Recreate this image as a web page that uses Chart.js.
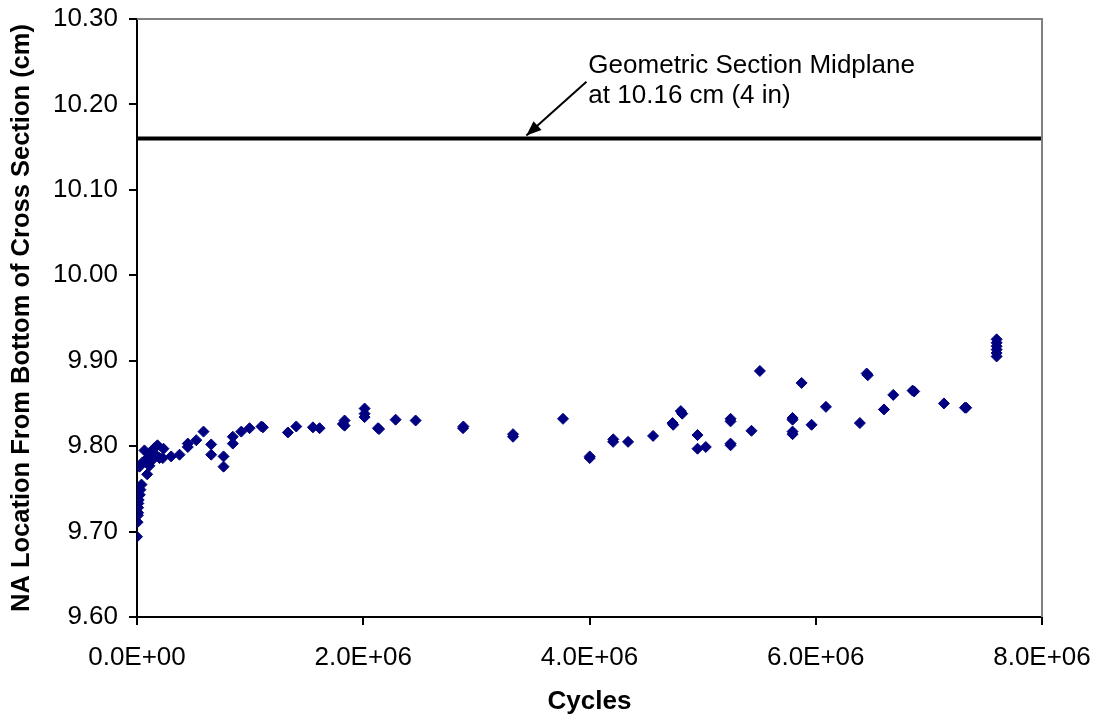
<!DOCTYPE html>
<html>
<head>
    <title>NA Location vs Cycles</title>
    <script src="https://cdn.jsdelivr.net/npm/chart.js"></script>
    <style>
        body { margin: 0; padding: 0; background: #ffffff; }
        #wrap { width: 1098px; height: 719px; }
    </style>
</head>
<body>
    <div id="wrap"><canvas id="chart" width="1098" height="719"></canvas></div>
    <script>
        // Measured points (cycles, NA location in cm)
        const cycles = [
            0, 5000, 8000, 10000, 10000, 12000, 15000, 25000, 30000, 40000,
            22000, 49000, 66000, 90000, 93000, 110000, 120000, 137000, 155000, 164000,
            181000, 199000, 234000, 228000, 302000, 376000, 449000, 449000, 524000, 588000,
            656000, 656000, 765000, 765000, 847000, 847000, 922000, 995000, 1113000, 1100000,
            1334000, 1408000, 1555000, 1614000, 1835000, 1835000, 1820000, 2012000, 2012000, 2012000,
            2130000, 2140000, 2286000, 2463000, 2882000, 2885000, 3324000, 3324000, 3766000, 4002000,
            4002000, 4209000, 4210000, 4341000, 4562000, 4734000, 4740000, 4807000, 4820000, 4955000,
            4955000, 5028000, 5247000, 5247000, 5247000, 5247000, 5432000, 5506000, 5795000, 5795000,
            5795000, 5795000, 5875000, 5963000, 6090000, 6390000, 6450000, 6460000, 6603000, 6685000,
            6856000, 6870000, 7133000, 7319000, 7330000, 7599000, 7599000, 7599000, 7599000, 7599000,
            7599000
        ];
        const naLocation = [
            9.694, 9.711, 9.719, 9.722, 9.728, 9.733, 9.737, 9.743, 9.749, 9.755,
            9.776, 9.781, 9.795, 9.767, 9.786, 9.777, 9.793, 9.784, 9.798, 9.790,
            9.801, 9.786, 9.797, 9.786, 9.788, 9.790, 9.799, 9.803, 9.807, 9.817,
            9.802, 9.790, 9.788, 9.776, 9.811, 9.803, 9.817, 9.821, 9.822, 9.823,
            9.816, 9.823, 9.822, 9.821, 9.830, 9.824, 9.826, 9.844, 9.838, 9.834,
            9.821, 9.820, 9.831, 9.830, 9.821, 9.823, 9.814, 9.811, 9.832, 9.788,
            9.786, 9.805, 9.808, 9.805, 9.812, 9.827, 9.825, 9.841, 9.838, 9.813,
            9.797, 9.799, 9.832, 9.829, 9.803, 9.801, 9.818, 9.888, 9.833, 9.831,
            9.817, 9.814, 9.874, 9.825, 9.846, 9.827, 9.885, 9.883, 9.843, 9.860,
            9.865, 9.864, 9.850, 9.845, 9.845, 9.925, 9.921, 9.917, 9.913, 9.909,
            9.905
        ];
        const midplane = 10.16;
        const xLimits = [0, 8000000];
        const yLimits = [9.6, 10.3];
        const noteLines = ['Geometric Section Midplane', 'at 10.16 cm (4 in)'];

        const points = cycles.map((c, i) => ({ x: c, y: naLocation[i] }));

        // gray frame on top and right, plus the midplane note with its arrow
        const framePlugin = {
            id: 'frame',
            afterDraw(chart) {
                const { ctx, chartArea: a, scales: { x, y } } = chart;
                ctx.save();
                ctx.strokeStyle = '#808080';
                ctx.lineWidth = 2;
                ctx.beginPath();
                ctx.moveTo(a.left, a.top);
                ctx.lineTo(a.right, a.top);
                ctx.lineTo(a.right, a.bottom);
                ctx.stroke();

                ctx.fillStyle = '#000';
                ctx.font = '26px "Liberation Sans", Arial, sans-serif';
                ctx.textBaseline = 'alphabetic';
                const tx = x.getPixelForValue(3990000);
                ctx.fillText(noteLines[0], tx, y.getPixelForValue(10.237));
                ctx.fillText(noteLines[1], tx, y.getPixelForValue(10.202));

                const x0 = x.getPixelForValue(3973000), y0 = y.getPixelForValue(10.2266);
                const x1 = x.getPixelForValue(3442000), y1 = y.getPixelForValue(10.1635);
                ctx.strokeStyle = '#000';
                ctx.lineWidth = 2;
                ctx.beginPath();
                ctx.moveTo(x0, y0);
                ctx.lineTo(x1, y1);
                ctx.stroke();
                const ang = Math.atan2(y1 - y0, x1 - x0);
                const len = 15, wid = 6;
                ctx.beginPath();
                ctx.moveTo(x1, y1);
                ctx.lineTo(x1 - len * Math.cos(ang) + wid * Math.sin(ang), y1 - len * Math.sin(ang) - wid * Math.cos(ang));
                ctx.lineTo(x1 - len * Math.cos(ang) - wid * Math.sin(ang), y1 - len * Math.sin(ang) + wid * Math.cos(ang));
                ctx.closePath();
                ctx.fill();
                ctx.restore();
            }
        };

        const tickFont = { family: '"Liberation Sans", Arial, sans-serif', size: 26 };
        const titleFont = { family: '"Liberation Sans", Arial, sans-serif', size: 26, weight: 'bold' };

        new Chart(document.getElementById('chart'), {
            type: 'scatter',
            data: {
                datasets: [{
                    label: 'NA location',
                    data: points,
                    pointStyle: 'rectRot',
                    pointRadius: 5.5,
                    borderWidth: 1,
                    backgroundColor: '#000080',
                    borderColor: '#000080',
                    order: 2
                }, {
                    label: 'Midplane',
                    type: 'line',
                    data: [{ x: xLimits[0], y: midplane }, { x: xLimits[1], y: midplane }],
                    borderColor: '#000',
                    borderWidth: 4,
                    pointRadius: 0,
                    order: 1
                }]
            },
            options: {
                responsive: false,
                animation: false,
                layout: { padding: { left: 0, top: 19, right: 56, bottom: 0 } },
                plugins: {
                    legend: { display: false },
                    tooltip: { enabled: false }
                },
                scales: {
                    x: {
                        type: 'linear',
                        min: xLimits[0],
                        max: xLimits[1],
                        afterFit(s) { s.height = 102; s.paddingLeft = 0; s.paddingRight = 0; },
                        border: { color: '#000', width: 2 },
                        grid: { drawOnChartArea: false, color: '#000', lineWidth: 2, tickLength: 8 },
                        ticks: {
                            stepSize: 2000000,
                            color: '#000',
                            font: tickFont,
                            padding: 17,
                            maxRotation: 0,
                            callback: v => v === 0 ? '0.0E+00' : (v / 1e6).toFixed(1) + 'E+06'
                        },
                        title: { display: true, text: 'Cycles', color: '#000', font: titleFont, padding: { top: 0, bottom: 2 } }
                    },
                    y: {
                        min: yLimits[0],
                        max: yLimits[1],
                        afterFit(s) { s.width = 137; s.paddingTop = 0; s.paddingBottom = 0; },
                        border: { color: '#000', width: 2 },
                        grid: { drawOnChartArea: false, color: '#000', lineWidth: 2, tickLength: 8 },
                        ticks: {
                            stepSize: 0.1,
                            color: '#000',
                            font: tickFont,
                            padding: 11,
                            callback: v => Number(v).toFixed(2)
                        },
                        title: {
                            display: true,
                            text: 'NA Location From Bottom of Cross Section (cm)',
                            color: '#000',
                            font: { family: '"Liberation Sans", Arial, sans-serif', size: 25.5, weight: 'bold' },
                            padding: { top: 7, bottom: 0 }
                        }
                    }
                }
            },
            plugins: [framePlugin]
        });
    </script>
</body>
</html>
